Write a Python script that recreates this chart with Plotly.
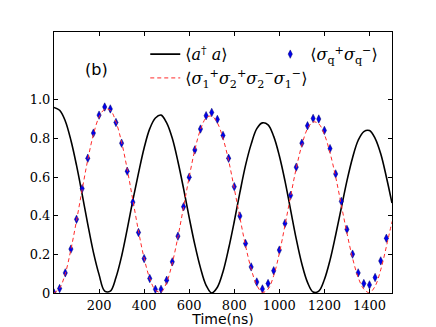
import plotly.graph_objects as go

# time axis (ns), sampled every 25 ns
t = [i * 25 for i in range(61)]

# <a^dagger a>, photon number (black)
photon = [0.96, 0.945, 0.89, 0.79, 0.66, 0.51, 0.355, 0.21, 0.095, 0.01,
          0.01, 0.08, 0.19, 0.33, 0.48, 0.62, 0.75, 0.85, 0.905, 0.92,
          0.88, 0.80, 0.68, 0.54, 0.39, 0.25, 0.13, 0.04, 0.0, 0.03,
          0.11, 0.23, 0.37, 0.52, 0.66, 0.77, 0.85, 0.88, 0.87, 0.81,
          0.71, 0.58, 0.43, 0.28, 0.15, 0.055, 0.005, 0.01, 0.07, 0.17,
          0.30, 0.44, 0.58, 0.70, 0.79, 0.835, 0.84, 0.80, 0.72, 0.60,
          0.465]

# <s1+ s2+ s2- s1-> (red dashed)
pair = [0.0, 0.025, 0.10, 0.225, 0.375, 0.535, 0.69, 0.82, 0.91, 0.95,
        0.945, 0.885, 0.78, 0.64, 0.48, 0.32, 0.18, 0.075, 0.015, 0.005,
        0.055, 0.155, 0.29, 0.445, 0.60, 0.74, 0.845, 0.905, 0.915, 0.88,
        0.80, 0.685, 0.54, 0.39, 0.245, 0.125, 0.04, 0.003, 0.02, 0.09,
        0.205, 0.35, 0.50, 0.645, 0.765, 0.85, 0.885, 0.875, 0.82, 0.725,
        0.60, 0.455, 0.31, 0.18, 0.08, 0.02, 0.002, 0.035, 0.12, 0.24,
        0.37]

# <sq+ sq-> diamonds, 0..1475 ns
t_q = [i * 25 for i in range(60)]
qubit = [0.0, 0.023, 0.104, 0.227, 0.381, 0.54, 0.697, 0.827, 0.92, 0.962,
         0.952, 0.882, 0.775, 0.63, 0.47, 0.313, 0.178, 0.075, 0.019, 0.019,
         0.066, 0.161, 0.294, 0.446, 0.599, 0.74, 0.848, 0.917, 0.934, 0.898,
         0.815, 0.697, 0.55, 0.398, 0.256, 0.135, 0.057, 0.021, 0.049, 0.115,
         0.222, 0.36, 0.505, 0.651, 0.775, 0.865, 0.903, 0.9, 0.841, 0.747,
         0.616, 0.474, 0.329, 0.201, 0.104, 0.049, 0.042, 0.08, 0.166, 0.283]

xticks = [200, 400, 600, 800, 1000, 1200, 1400]
yticks = [0, 0.2, 0.4, 0.6, 0.8, 1.0]
ytext = ["0", "0.2", "0.4", "0.6", "0.8", "1.0"]

fig = go.Figure()
fig.add_trace(go.Scatter(x=t, y=photon, mode="lines", line=dict(color="black", width=1.6, shape="spline"),
                         name="⟨<i>a</i><sup>†</sup> <i>a</i>⟩"))
fig.add_trace(go.Scatter(x=t_q, y=qubit, mode="markers",
                         marker=dict(symbol="diamond-tall", size=6, color="#0000ee",
                                     line=dict(color="#000066", width=0.5)),
                         name="⟨<i>σ</i><sub>q</sub><sup>+</sup><i>σ</i><sub>q</sub><sup>−</sup>⟩"))
fig.add_trace(go.Scatter(x=t, y=pair, mode="lines", line=dict(color="#ff2a2a", width=1, dash="4px,3px", shape="spline"),
                         name="⟨<i>σ</i><sub>1</sub><sup>+</sup><i>σ</i><sub>2</sub><sup>+</sup>"
                              "<i>σ</i><sub>2</sub><sup>−</sup><i>σ</i><sub>1</sub><sup>−</sup>⟩"))

fig.add_annotation(text="(b)", x=0.127, y=0.855, xref="paper", yref="paper", showarrow=False,
                   xanchor="center", yanchor="middle",
                   font=dict(family="DejaVu Sans", size=16, color="black"))

axis_common = dict(showline=True, linecolor="black", linewidth=1, mirror="ticks", ticks="inside",
                   ticklen=4, tickcolor="black", showgrid=False, zeroline=False, automargin=False,
                   tickfont=dict(family="DejaVu Serif", size=13, color="black"))

fig.update_xaxes(range=[0, 1500], tickvals=xticks,
                 title=dict(text="Time(ns)", font=dict(family="DejaVu Sans", size=14, color="black"), standoff=7),
                 **axis_common)
fig.update_yaxes(range=[0, 1.35], tickvals=yticks, ticktext=ytext, **axis_common)

# page has an 8px body margin, so the figure is drawn 8px smaller and shifted
fig.update_layout(
    width=428, height=319,
    margin=dict(l=46, r=44, t=24, b=34),
    paper_bgcolor="white", plot_bgcolor="white",
    legend=dict(orientation="h", x=0.27, y=0.98, xanchor="left", yanchor="top",
                entrywidth=80, bgcolor="rgba(0,0,0,0)",
                font=dict(family="DejaVu Serif", size=16, color="black")),
)

fig.write_html("out.html")
